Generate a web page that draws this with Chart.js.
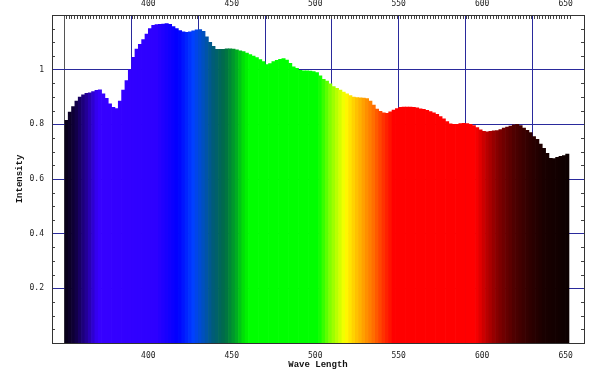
<!DOCTYPE html>
<html>
<head>
<meta charset="utf-8">
<script src="https://cdn.jsdelivr.net/npm/chart.js@4"></script>
<style>
html,body{margin:0;padding:0;background:#fff}
#wrap{width:600px;height:371px}
</style>
</head>
<body>
<div id="wrap"><canvas id="c" width="600" height="371"></canvas></div>
<script>
// ---- data ----
const wavelengths = [
  351,353,355,357,359,361,363,365,367,369,371,373,375,377,379,381,383,385,387,389,
  391,393,395,397,399,401,403,405,407,409,411,413,415,417,419,421,423,425,427,429,
  431,433,435,437,439,441,443,445,447,449,451,453,455,457,459,461,463,465,467,469,
  471,473,475,477,479,481,483,485,487,489,491,493,495,497,499,501,503,505,507,509,
  511,513,515,517,519,521,523,525,527,529,531,533,535,537,539,541,543,545,547,549,
  551,553,555,557,559,561,563,565,567,569,571,573,575,577,579,581,583,585,587,589,
  591,593,595,597,599,601,603,605,607,609,611,613,615,617,619,621,623,625,627,629,
  631,633,635,637,639,641,643,645,647,649,651
];
const intensity = [
  0.815,0.845,0.865,0.885,0.900,0.908,0.913,0.915,0.920,0.924,0.926,0.912,0.895,0.875,0.862,0.858,0.885,0.925,0.960,1.000,
  1.045,1.075,1.093,1.110,1.130,1.150,1.162,1.165,1.166,1.167,1.169,1.166,1.158,1.150,1.143,1.138,1.137,1.138,1.142,1.146,
  1.147,1.140,1.120,1.100,1.085,1.074,1.074,1.074,1.076,1.076,1.075,1.073,1.069,1.066,1.061,1.055,1.050,1.044,1.037,1.030,
  1.019,1.022,1.030,1.034,1.038,1.041,1.035,1.023,1.010,1.005,0.998,0.996,0.996,0.995,0.993,0.989,0.977,0.965,0.958,0.948,
  0.938,0.932,0.925,0.918,0.912,0.905,0.900,0.898,0.897,0.896,0.894,0.885,0.870,0.856,0.848,0.842,0.840,0.846,0.852,0.858,
  0.862,0.863,0.863,0.863,0.862,0.860,0.857,0.855,0.851,0.847,0.842,0.837,0.828,0.820,0.810,0.802,0.800,0.800,0.803,0.804,
  0.803,0.800,0.795,0.788,0.780,0.774,0.773,0.774,0.776,0.777,0.781,0.786,0.790,0.794,0.798,0.800,0.795,0.786,0.778,0.770,
  0.755,0.745,0.728,0.712,0.694,0.676,0.675,0.679,0.683,0.686,0.691
];
const xTickLabels = [400, 450, 500, 550, 600, 650];
const xGridValues = [350, 390, 430, 470, 510, 550, 590, 630];
const yTickValues = [0.2, 0.4, 0.6, 0.8, 1];

// ---- style ----
const colorStops = [
  [350,[8,0,20]],[356,[15,0,60]],[363,[35,0,150]],[370,[55,0,255]],
  [405,[45,0,255]],[418,[0,0,255]],[427,[0,64,255]],[433,[0,80,190]],
  [439,[0,92,120]],[446,[0,110,70]],[452,[0,160,40]],[458,[0,235,0]],
  [461,[0,255,0]],[502,[0,255,0]],[509,[130,255,0]],[518,[255,255,0]],
  [523,[255,210,0]],[529,[255,160,0]],[535,[255,110,0]],[541,[255,50,0]],
  [547,[255,0,0]],[596,[255,0,0]],[603,[185,0,0]],[610,[128,0,0]],
  [619,[80,0,0]],[628,[48,0,0]],[637,[26,0,0]],[652,[12,0,0]]
];
function spectrumColor(wl){
  if (wl <= colorStops[0][0]) return 'rgb(' + colorStops[0][1].join(',') + ')';
  for (let i = 1; i < colorStops.length; i++){
    const [w1,c1] = colorStops[i];
    const [w0,c0] = colorStops[i-1];
    if (wl <= w1){
      const t = (wl - w0) / (w1 - w0);
      const c = c0.map((v,k)=>Math.round(v + (c1[k]-v)*t));
      return 'rgb(' + c.join(',') + ')';
    }
  }
  return 'rgb(' + colorStops[colorStops.length-1][1].join(',') + ')';
}

const X_MIN = 342.3, X_MAX = 661;
const GRID_BLUE = '#2a2a9c';
const tickFont = {family:'DejaVu Sans Mono', size:8};
const titleFont = {family:'Liberation Mono', size:9, weight:'bold'};

const framePlugin = {
  id:'frame',
  afterDraw(chart){
    const {ctx, chartArea:a, scales} = chart;
    ctx.save();
    ctx.lineWidth = 1;
    ctx.strokeStyle = '#444';
    ctx.beginPath();
    // minor ticks on left and right
    for (let k = 1; k <= 23; k++){
      if (k % 4 === 0) continue;
      const v = k * 0.05;
      const y = Math.round(scales.y.getPixelForValue(v)) + 0.5;
      ctx.moveTo(a.left, y); ctx.lineTo(a.left + 3, y);
      ctx.moveTo(a.right - 3, y); ctx.lineTo(a.right, y);
    }
    // dense ticks on top
    for (let v = 350.6; v <= 652.5; v += 1.64){
      const x = Math.round(scales.x.getPixelForValue(v)) + 0.5;
      ctx.moveTo(x, a.top); ctx.lineTo(x, a.top + 4);
    }
    ctx.stroke();
    ctx.strokeStyle = '#333';
    ctx.strokeRect(Math.round(a.left) + 0.5, Math.round(a.top) + 0.5,
                   Math.round(a.right - a.left), Math.round(a.bottom - a.top));
    ctx.restore();
  }
};

new Chart(document.getElementById('c'), {
  type: 'bar',
  data: {
    datasets: [{
      data: wavelengths.map((w,i)=>({x:w, y:intensity[i]})),
      backgroundColor: wavelengths.map(spectrumColor),
      borderWidth: 0,
      barPercentage: 1,
      categoryPercentage: 1,
      xAxisID: 'x',
      yAxisID: 'y'
    }]
  },
  options: {
    responsive: false,
    animation: false,
    events: [],
    layout: {padding: {left:0, right:16, top:0, bottom:0}},
    plugins: {legend:{display:false}, tooltip:{enabled:false}, title:{display:false}},
    scales: {
      x: {
        type:'linear', position:'bottom', min:X_MIN, max:X_MAX, offset:false,
        afterBuildTicks: s => { s.ticks = xTickLabels.map(v=>({value:v})); },
        ticks: {padding:8, font:tickFont, color:'#222', maxRotation:0, autoSkip:false, callback: v => String(v)},
        grid: {display:false, drawTicks:false, offset:false},
        border: {display:false},
        title: {display:true, text:'Wave Length', font:titleFont, color:'#111', padding:{top:0, bottom:1.3}},
        afterFit: s => { s.height = 28; }
      },
      xg: {
        type:'linear', position:'bottom', min:X_MIN, max:X_MAX, offset:false,
        afterBuildTicks: s => { s.ticks = xGridValues.map(v=>({value:v})); },
        ticks: {display:false},
        grid: {color: c => (c.tick && c.tick.value === 350) ? '#555' : GRID_BLUE, lineWidth:1, drawTicks:false, offset:false},
        border: {display:false},
        afterFit: s => { s.height = 0; }
      },
      xt: {
        type:'linear', position:'top', min:X_MIN, max:X_MAX, offset:false,
        afterBuildTicks: s => { s.ticks = xTickLabels.map(v=>({value:v})); },
        ticks: {padding:6.5, font:tickFont, color:'#222', maxRotation:0, autoSkip:false, callback: v => String(v)},
        grid: {display:false, drawTicks:false},
        border: {display:false},
        afterFit: s => { s.height = 15; }
      },
      y: {
        type:'linear', position:'left', min:0, max:1.2,
        afterBuildTicks: s => { s.ticks = yTickValues.map(v=>({value:v})); },
        ticks: {padding:8, font:tickFont, color:'#222', callback: v => (v === 1 ? '1' : v.toFixed(1))},
        grid: {color:GRID_BLUE, lineWidth:1, drawTicks:false},
        border: {display:false},
        title: {display:true, text:'Intensity', font:titleFont, color:'#111', padding:{top:14.6, bottom:0}},
        afterFit: s => { s.width = 52; }
      }
    }
  },
  plugins: [framePlugin]
});
</script>
</body>
</html>
